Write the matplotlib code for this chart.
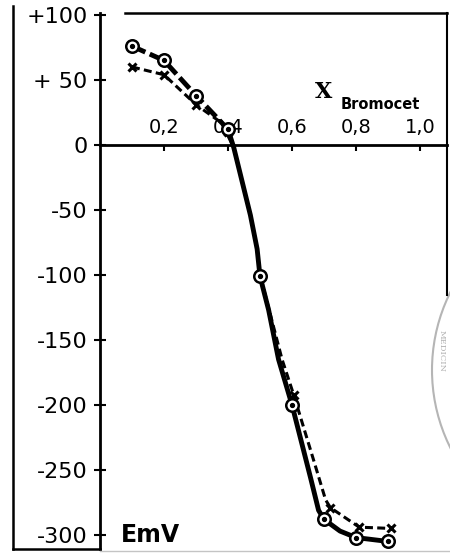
import matplotlib
matplotlib.use("Agg")
import matplotlib.pyplot as plt
from matplotlib.lines import Line2D
from matplotlib.patches import Ellipse

# ─── data ────────────────────────────────────────────────────────────────────
x_frac = [0.1, 0.2, 0.3, 0.4, 0.5, 0.6, 0.7, 0.8, 0.9]
emv_circles = [76, 65, 38, 12, -101, -200, -288, -302, -305]

x_cross = [0.1, 0.2, 0.3, 0.4, 0.5, 0.605, 0.72, 0.81, 0.91]
emv_cross = [60, 54, 31, 10, -100, -192, -279, -294, -295]

# hand-drawn curves
curve_a_x = [0.1, 0.2, 0.3, 0.4, 0.418, 0.444, 0.47, 0.491, 0.5, 0.527,
             0.558, 0.6, 0.658, 0.683, 0.7, 0.75, 0.8, 0.9]
curve_a_y = [76, 65, 38, 12, -2, -28, -54, -80, -101, -127,
             -165, -200, -256, -281, -288, -297, -302, -305]
curve_b_x = [0.1, 0.2, 0.3, 0.38, 0.418, 0.444, 0.47, 0.491, 0.5, 0.569,
             0.605, 0.667, 0.705, 0.72, 0.81, 0.91]
curve_b_y = [60, 54, 31, 17, -2, -28, -54, -80, -100, -165,
             -192, -242, -273, -279, -294, -295]

y_ticks = [100, 50, 0, -50, -100, -150, -200, -250, -300]
y_labels = ["+100", "+ 50", "0", "-50", "-100", "-150", "-200", "-250", "-300"]
x_ticks = [0.2, 0.4, 0.6, 0.8, 1.0]
x_labels = ["0,2", "0,4", "0,6", "0,8", "1,0"]

W, H = 450, 554
fig = plt.figure(figsize=(W / 100, H / 100), dpi=100, facecolor="white")
ax = fig.add_axes([100 / W, (H - 549) / H, 347 / W, (549 - 13) / H])
ax.set_facecolor("none")
ax.set_xlim(0, 347 / 320)
ax.set_ylim(-310.8, 101.5)

# ── axes: y spine on the left, x axis through zero ───────────────────────────
ax.spines["right"].set_visible(False)
ax.spines["left"].set_linewidth(2)
ax.spines["bottom"].set_position(("data", 0))
ax.spines["bottom"].set_linewidth(2)
# top spine only carries the x labels, sitting just above the zero line
ax.spines["top"].set_position(("data", 0))
ax.spines["top"].set_visible(False)

ax.set_yticks(y_ticks, y_labels)
ax.tick_params(axis="y", direction="inout", length=8, width=1.5, pad=5,
               labelsize=16)
ax.set_xticks(x_ticks, x_labels)
ax.tick_params(axis="x", bottom=True, top=False, labelbottom=False,
               labeltop=True, direction="out", length=4, width=1.5, pad=2,
               labelsize=14)

# ── curves ───────────────────────────────────────────────────────────────────
ax.plot(curve_b_x, curve_b_y, color="black", lw=2.2, dashes=(2.6, 1.4),
        zorder=3)
ax.plot(curve_a_x[:4], curve_a_y[:4], color="black", lw=3.5, dashes=(3, 1),
        zorder=4)
ax.plot(curve_a_x[3:], curve_a_y[3:], color="black", lw=3.5, zorder=4)

ax.plot(x_cross, emv_cross, ls="none", marker="x", ms=6, mew=2.2,
        color="black", zorder=5)
ax.plot(x_frac, emv_circles, ls="none", marker="o", ms=9, mfc="white",
        mec="black", mew=1.8, zorder=6)
ax.plot(x_frac, emv_circles, ls="none", marker="o", ms=2.8, color="black",
        zorder=7)

# ── labels ───────────────────────────────────────────────────────────────────
ax.text(0.698, 41, "X", family="DejaVu Serif", weight="bold", fontsize=16,
        ha="center", va="center")
ax.text(0.752, 31, "Bromocet", weight="bold", fontsize=10.5,
        ha="left", va="center")
ax.text(0.064, -300, "EmV", weight="bold", fontsize=17, ha="left",
        va="center")

# ── page frame and stamp from the scan ───────────────────────────────────────
def px_line(xs, ys, **kw):
    fig.add_artist(Line2D([x / W for x in xs], [1 - y / H for y in ys],
                          transform=fig.transFigure, **kw))

px_line([13, 13], [6, 549], color="black", lw=1.8)
px_line([13, 100], [549, 549], color="black", lw=1.8)
px_line([100, 450], [551, 551], color="#c4c4c4", lw=1.0)
px_line([125, 447], [13, 13], color="black", lw=1.8)
px_line([447, 447], [13, 295], color="black", lw=1.5)

fig.add_artist(Ellipse((606 / W, 1 - 370 / H), 348 / W, 348 / H, fill=False,
                       edgecolor="#b5b5b5", lw=1.5, transform=fig.transFigure))
fig.text(438 / W, 1 - 330 / H, "MEDICIN", rotation=-90, family="DejaVu Serif",
         fontsize=6, color="#b0b0b0", ha="left", va="top")

fig.savefig("out.png", dpi=100, facecolor="white")
